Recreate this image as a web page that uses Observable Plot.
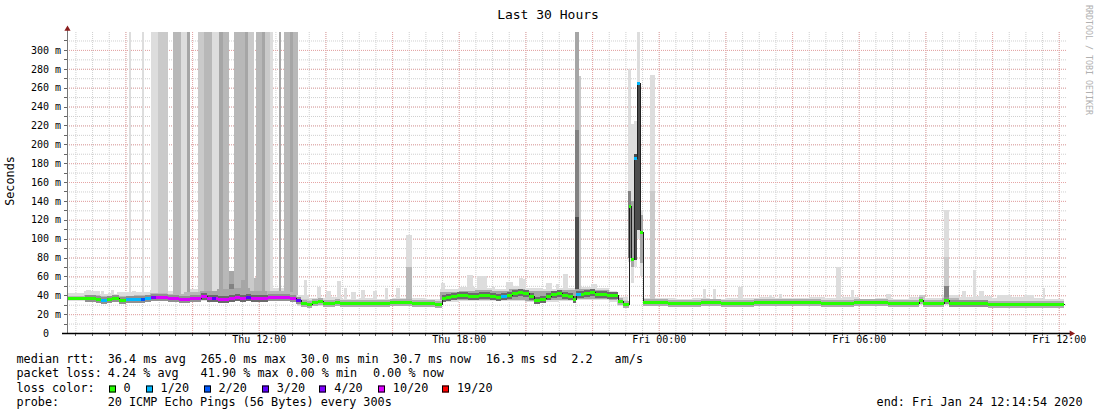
<!DOCTYPE html>
<html><head><meta charset="utf-8">
<script src="https://cdn.jsdelivr.net/npm/d3@7"></script>
<script src="https://cdn.jsdelivr.net/npm/@observablehq/plot@0.6"></script>
<style>
body{margin:0;background:#fff;}
#wrap{position:relative;width:1097px;height:415px;overflow:hidden;font-family:"DejaVu Sans Mono",monospace;color:#000;background:#fff;}
#wrap svg{position:absolute;left:0;top:0;}
.t{position:absolute;white-space:pre;line-height:1;transform:translateY(-50%);font-size:11.8px;}
.box{position:absolute;width:5px;height:5px;border:1px solid #000;transform:translateY(-50%);}
</style></head>
<body><div id="wrap"></div>
<script>
// ---------- DATA (hours since Thu 00:00, values in ms) ----------
const xDomain = [6.248, 36.248];     // Thu 06:14:54 .. Fri 12:14:54
const dataEnd = 36.15;
const xLabelVals = [12, 18, 24, 30, 36];
const xLabelText = ["Thu 12:00", "Thu 18:00", "Fri 00:00", "Fri 06:00", "Fri 12:00"];
const yLabelVals = [0, 20, 40, 60, 80, 100, 120, 140, 160, 180, 200, 220, 240, 260, 280, 300];

// median rtt (step changes) and lost-ping class
const medT = [6.248, 6.78, 7.11, 7.26, 7.44, 7.59, 7.80, 8.01, 8.46, 8.58,
  8.76, 8.91, 9.09, 9.27, 9.42, 9.60, 9.78, 9.93, 10.11, 10.26,
  10.44, 10.59, 10.71, 10.77, 10.92, 11.10, 11.28, 11.43, 11.61, 11.76,
  11.94, 12.09, 12.27, 12.78, 12.93, 13.11, 13.26, 13.44, 13.59, 13.77,
  13.92, 14.28, 14.43, 15.42, 15.60, 15.78, 15.93, 16.26, 16.44, 16.59,
  17.28, 17.49, 17.61, 17.76, 17.94, 18.27, 18.60, 18.75, 18.93, 19.11,
  19.26, 19.44, 19.59, 19.77, 19.92, 20.10, 20.25, 20.43, 20.61, 20.76,
  20.94, 21.09, 21.27, 21.42, 21.51, 21.66, 21.75, 21.93, 22.08, 22.44,
  22.59, 22.77, 22.92, 23.10, 23.18, 23.26, 23.34, 23.43, 23.52, 24.27,
  25.26, 25.86, 26.85, 27.87, 28.86, 29.85, 30.87, 31.80, 31.92, 32.55,
  32.70, 33.87, 34.86];
const medV = [37, 37.5, 36.5, 35.5, 36, 37, 34.6, 36, 36.5, 37.5,
  38.5, 38.5, 38, 37, 37.5, 36, 36.5, 37, 37.5, 39,
  37.5, 37, 37, 36.5, 36, 37, 38, 37, 38.5, 37.5,
  37, 37.5, 38.5, 38, 37.5, 35, 31.5, 31, 33, 33.5,
  32, 32.5, 31.5, 32, 31.5, 32, 32.5, 33, 32.5, 31.5,
  30.5, 37, 38.5, 39, 40, 39.5, 40.8, 40.5, 39, 38,
  39.5, 40.5, 42, 43.3, 42.5, 39, 35.5, 36.5, 39, 41,
  42, 40, 39.5, 36, 41, 41, 42.5, 43.5, 41.5, 40.5,
  40, 34, 30.5, 134.6, 78, 185, 265, 107.4, 33, 32,
  33, 32, 33.2, 32.5, 31.5, 32.5, 32, 35, 32, 35,
  31.5, 31, 30.7];
const medLoss = [0, 0, 0, 1, 0, 0, 0, 1, 2, 1,
  4, 5, 5, 5, 5, 5, 5, 5, 5, 5,
  5, 3, 5, 5, 5, 5, 5, 5, 3, 5,
  5, 5, 5, 5, 5, 3, 0, 0, 0, 0,
  0, 0, 0, 0, 0, 0, 0, 0, 0, 0,
  0, 0, 0, 0, 0, 0, 0, 0, 0, 0,
  1, 0, 0, 0, 0, 0, 0, 0, 0, 0,
  0, 0, 0, 0, 1, 0, 0, 0, 0, 0,
  0, 0, 0, 0, 0, 1, 1, 0, 0, 0,
  0, 0, 0, 0, 0, 0, 0, 0, 0, 0,
  0, 0, 0];

// base smoke: full ping range and denser inner range, with density level
const smokeT = [6.25, 6.75, 7.25, 7.75, 8.25, 8.75, 9.25, 9.75, 10.25, 10.75, 11.25, 11.75, 12.25, 12.75, 13.15,
  13.5, 14.0, 14.5, 15.0, 15.5, 16.0, 16.5, 17.0,
  17.45, 18.0, 18.5, 19.0, 19.5, 20.0, 20.5, 21.0, 21.5, 22.0, 22.5,
  22.75, 23.07, 23.52,
  24.0, 24.5, 25.0, 25.5, 26.0, 26.5, 27.0, 27.5, 28.0, 28.5, 29.0, 29.5, 30.0, 30.5, 31.0, 31.5, 32.0, 32.5, 33.0, 33.5, 34.0, 34.5, 35.0, 35.5];
const smokeLo = [34, 33.5, 33, 33, 34, 34, 33.5, 34, 34, 33.5, 34, 34, 34.5, 34, 29,
  29, 29, 29, 29, 29.5, 29.5, 29, 28.5,
  33, 34, 34, 33.5, 34, 33, 33, 34, 35, 35, 33,
  28.5, null, 30,
  30, 30.5, 30, 30, 30, 30.5, 30.5, 30.5, 30, 30, 29.5, 29.5, 30, 30, 29.5, 30, 30, 30, 29.5, 29.5, 29, 29, 29, 29];
const smokeHi = [42, 44, 41, 43, 43, 46, 45, 47, 50, 55, 60, 52, 48, 46, 40,
  37, 38, 36, 37, 36, 37, 37, 36,
  47, 49, 48, 47, 50, 48, 47, 48, 49, 48, 45,
  38, null, 37,
  37, 36, 37, 36, 37, 37, 38, 37, 37, 38, 37, 38, 36, 37, 36, 38, 37, 40, 38, 39, 37, 38, 37, 36];
const coreLo = [35.5, 35.5, 34.5, 34.5, 35, 35.5, 35, 35.5, 35.5, 35, 35.5, 35.5, 36, 35.5, 30,
  30.5, 30, 30, 30.5, 30.5, 30.5, 30, 29.5,
  35, 35.5, 35.5, 35, 35.5, 34, 34.5, 35.5, 36.5, 36.5, 34.5,
  29.5, null, 31,
  31, 31, 31, 31, 31, 31.5, 31.5, 31.5, 31, 31, 30.5, 30.5, 31, 31, 30.5, 31, 31, 31, 30.5, 30.5, 30, 30, 30, 30];
const coreHi = [39.5, 40, 39, 39.5, 40, 42, 41, 43, 45, 47, 48, 45, 44, 43, 36,
  35, 35, 34, 35, 34, 35, 34, 34,
  43, 45, 46, 44, 47, 45, 44, 46, 47, 46, 43,
  35, null, 34.5,
  34, 34, 34.5, 34, 34.5, 35, 35, 34.5, 34, 34, 33.5, 34, 34, 34, 33.5, 35, 34, 37, 34, 34, 33.5, 33.5, 33, 33];
const coreLev = [4, 4, 4, 4, 4, 4, 4, 4, 5, 5, 5, 5, 4, 4, 3,
  3, 3, 3, 3, 3, 3, 3, 3,
  5, 5, 5, 5, 5, 5, 5, 5, 5, 5, 5,
  3, null, 3,
  3, 3, 3, 3, 3, 3, 3, 3, 3, 3, 3, 3, 3, 3, 3, 3, 3, 4, 3, 3, 3, 3, 3, 3];

// smoke columns (bursts of slow / lost pings): start, end, low, high, density level
const colT0 = [8.10, 8.49, 8.76, 8.97, 9.42, 9.66, 9.84, 10.17, 10.35, 10.59, 10.80, 10.92, 11.25, 11.58, 11.67, 11.91, 12.09, 12.18, 12.33, 12.60, 12.75, 12.93, 13.02,
  6.81, 7.26, 7.47, 7.56, 8.19, 11.10, 11.10, 11.85, 11.46,
  13.35, 13.74, 14.01, 14.34, 14.55, 14.76, 15.06, 15.42, 15.78, 16.11,
  16.41, 16.41, 17.46, 18.24, 18.54, 18.99, 19.41, 19.80, 19.92, 20.61, 20.91, 21.12, 21.81, 21.96,
  21.49, 21.49, 21.49, 21.61, 23.09, 23.09, 23.18, 23.18, 23.26, 23.26, 23.34, 23.34, 23.43, 23.43, 23.75, 23.75,
  25.32, 25.62, 26.37, 27.30, 27.60, 29.31, 29.76, 30.81, 31.80, 32.55, 32.55, 32.55, 33.09, 33.42, 33.60, 34.14, 34.95, 35.52];
const colT1 = [8.16, 8.55, 8.97, 9.27, 9.66, 9.84, 9.93, 10.35, 10.59, 10.80, 10.92, 11.10, 11.58, 11.67, 11.85, 12.09, 12.18, 12.33, 12.42, 12.66, 12.93, 13.02, 13.17,
  6.96, 7.35, 7.62, 7.65, 8.31, 11.25, 11.25, 11.97, 11.58,
  13.44, 13.86, 14.16, 14.46, 14.64, 14.91, 15.18, 15.54, 15.87, 16.23,
  16.59, 16.59, 17.58, 18.42, 18.84, 19.08, 19.62, 19.92, 20.01, 20.79, 21.00, 21.27, 21.93, 22.14,
  21.61, 21.61, 21.61, 21.67, 23.18, 23.18, 23.26, 23.26, 23.34, 23.34, 23.43, 23.43, 23.52, 23.52, 23.89, 23.89,
  25.41, 25.71, 26.52, 27.39, 27.69, 29.46, 29.85, 30.96, 32.00, 32.70, 32.70, 32.70, 33.21, 33.51, 33.75, 34.56, 35.25, 35.58];
const colLo = [40, 40, 40, 40, 40, 40, 40, 40, 40, 40, 40, 40, 40, 40, 40, 40, 40, 40, 40, 40, 40, 40, 40,
  36, 36, 36, 36, 36, 38, 38, 38, 38,
  33, 33, 33, 33, 33, 33, 33, 33, 33, 33,
  33, 33, 40, 42, 42, 42, 42, 44, 44, 42, 42, 42, 42, 44,
  40, 40, 40, 40, 75, 80, 53, 70, 70, 77, 100, 109, 60, 74, 35, 35,
  33, 33, 33, 33, 33, 33, 33, 33, 33, 33, 33, 33, 33, 33, 33, 33, 33, 33];
const colHi = [319, 319, 319, 319, 319, 319, 319, 319, 319, 319, 319, 319, 319, 319, 319, 319, 319, 319, 319, 319, 319, 319, 319,
  46, 45, 42, 46, 44, 66, 52, 58, 56,
  56, 49, 44, 55, 48, 43, 46, 44, 48, 48,
  104, 70, 53, 61, 60, 49, 54, 58, 57, 53, 52, 63, 47, 52,
  319, 215, 123, 272, 280, 150, 222, 140, 225, 190, 319, 266, 130, 125, 273, 150,
  47, 47, 49, 40, 41.5, 70, 46, 41, 40, 130, 81, 50, 44, 67, 44, 40, 40, 48];
const colLev = [1, 1, 1, 2, 3, 1, 4, 2, 3, 1, 4, 3, 3, 4, 2, 3, 4, 2, 1, 4, 3, 4, 3,
  1, 1, 1, 1, 1, 4, 5, 3, 4,
  1, 1, 1, 1, 1, 1, 1, 1, 1, 1,
  1, 3, 1, 1, 1, 1, 1, 1, 1, 1, 1, 1, 1, 1,
  4, 5, 6, 2, 1, 5, 1, 4, 1, 6, 1, 6, 1, 4, 1, 2,
  1, 1, 1, 1, 1, 1, 1, 1, 2, 1, 2, 5, 1, 1, 1, 1, 1, 1];

// legend content
const statLine1 = ["median rtt:", "36.4 ms avg", "265.0 ms max", "30.0 ms min", "30.7 ms now", "16.3 ms sd", "2.2", "am/s"];
const statLine2 = ["packet loss:", "4.24 % avg", "41.90 % max", "0.00 % min", "0.00 % now"];
const lossLabels = ["0", "1/20", "2/20", "3/20", "4/20", "10/20", "19/20"];
const lossColors = ["#26ff00", "#00b8ff", "#0059ff", "#5e00ff", "#7e00ff", "#dd00ff", "#ff0000"];
const probeText = "20 ICMP Echo Pings (56 Bytes) every 300s";
const endText = "end: Fri Jan 24 12:14:54 2020";

// ---------- STYLE / LAYOUT ----------
const grays = ["#dddddd", "#cacaca", "#b8b8b8", "#a6a6a6", "#828282", "#4d4d4d"];
const haloGray = {3: "#acacac", 4: "#909090", 5: "#6a6a6a"};
const mono = "DejaVu Sans Mono";
const line1X = [16.5, 107.7, 200.6, 300.6, 392.8, 485.8, 571.3, 614.6];
const line2X = [16.5, 107.7, 200.6, 286.2, 372.9];
const lossLabelX = [123.5, 160.6, 218.5, 276.7, 334.3, 392.8, 457.0];
const rowY = [359.5, 374, 388.5, 403];

// ---------- build ----------
const med = medT.map((t, i) => ({t0: t, t1: i + 1 < medT.length ? medT[i + 1] : dataEnd, v: medV[i], loss: medLoss[i]}));
const medPts = med.map(d => ({t: d.t0, v: d.v})).concat([{t: dataEnd, v: medV[medV.length - 1]}]);
const smoke = smokeT.map((t, i) => ({t0: t, t1: i + 1 < smokeT.length ? smokeT[i + 1] : dataEnd,
  lo: smokeLo[i], hi: smokeHi[i], clo: coreLo[i], chi: coreHi[i], lev: coreLev[i]})).filter(d => d.lo != null);
const cols = d3.sort(colT0.map((t, i) => ({t0: t, t1: colT1[i], lo: colLo[i], hi: colHi[i], lev: colLev[i]})), d => d.lev);
const levAt = t => { let l = null; for (const s of smoke) if (s.t0 <= t + 1e-9 && t < s.t1) l = s.lev; return l; };
const halo = med.map(d => ({...d, lev: levAt(d.t0)})).filter(d => d.lev != null && d.v < 100);

const xMinor = d3.range(6.5, 36.01, 0.5);
const xMajor = d3.range(8, 36.01, 2);
const yMinor = d3.range(10, 311, 10);
const yMajor = d3.range(20, 301, 20);

const chart = Plot.plot({
  width: 1097, height: 350,
  marginTop: 32, marginBottom: 17, marginLeft: 67, marginRight: 30,
  x: {domain: xDomain, axis: null},
  y: {domain: [0, 319], axis: null},
  color: {type: "identity"},
  style: {background: "transparent", overflow: "visible"},
  marks: [
    Plot.gridY(yMinor, {stroke: "#cfcfcf", strokeOpacity: 1, strokeDasharray: "1,1"}),
    Plot.gridX(xMinor, {stroke: "#cfcfcf", strokeOpacity: 1, strokeDasharray: "1,1"}),
    Plot.gridY(yMajor, {stroke: "#e6a4a4", strokeOpacity: 1, strokeDasharray: "1,1"}),
    Plot.gridX(xMajor, {stroke: "#e6a4a4", strokeOpacity: 1, strokeDasharray: "1,1"}),
    Plot.rect(smoke, {x1: "t0", x2: "t1", y1: "lo", y2: "hi", fill: grays[0], shapeRendering: "crispEdges"}),
    Plot.rect(cols, {x1: "t0", x2: "t1", y1: "lo", y2: "hi", fill: d => grays[d.lev - 1], shapeRendering: "crispEdges"}),
    Plot.rect(smoke, {x1: "t0", x2: "t1", y1: "clo", y2: "chi", fill: d => grays[d.lev - 2], shapeRendering: "crispEdges"}),
    Plot.ruleY(halo, {y: "v", x1: "t0", x2: "t1", stroke: d => haloGray[d.lev], strokeWidth: 7, shapeRendering: "crispEdges"}),
    Plot.line(medPts, {x: "t", y: "v", curve: "step-after", stroke: "#202020", strokeWidth: 1, shapeRendering: "crispEdges"}),
    Plot.ruleY(med, {y: "v", x1: "t0", x2: "t1", stroke: d => lossColors[d.loss], strokeWidth: 3, shapeRendering: "crispEdges"}),
    Plot.ruleY(d3.range(0, 311, 10), {x1: xDomain[0], x2: xDomain[0], insetLeft: -3, stroke: "#666", shapeRendering: "crispEdges"}),
    Plot.ruleX(xMinor, {y1: 0, y2: 0, insetBottom: -3, stroke: "#666", shapeRendering: "crispEdges"}),
    Plot.ruleX([xDomain[0]], {stroke: "#777", insetTop: -4, shapeRendering: "crispEdges"}),
    Plot.ruleY([0], {stroke: "#000", strokeWidth: 1.5, insetLeft: -5, insetRight: -3}),
    Plot.dot([0], {frameAnchor: "top-left", symbol: "triangle", r: 2.3, fill: "#8b1c1c", stroke: null, dy: -3.5}),
    Plot.dot([0], {frameAnchor: "bottom-right", symbol: "triangle", r: 2.3, fill: "#8b1c1c", stroke: null, dx: 4, rotate: 90}),
    Plot.text(yLabelVals, {y: d => d, text: d => d === 0 ? "0\u00a0\u00a0" : d + " m", frameAnchor: "left", textAnchor: "end", dx: -6.5, fontSize: 10, fontFamily: mono, fill: "#000"}),
    Plot.text(xLabelVals, {x: d => d, text: (d, i) => xLabelText[i], frameAnchor: "bottom", dy: 9, fontSize: 10, fontFamily: mono, fill: "#000"})
  ]
});

const wrap = document.getElementById("wrap");
wrap.appendChild(chart);

function addText(txt, x, y, extra) {
  const s = document.createElement("div");
  s.className = "t";
  s.textContent = txt;
  s.style.left = x + "px";
  s.style.top = y + "px";
  if (extra) Object.assign(s.style, extra);
  wrap.appendChild(s);
  return s;
}
addText("Last 30 Hours", 548, 13.5, {fontSize: "13px", transform: "translate(-50%,-50%)"});
addText("Seconds", 11, 181, {fontSize: "11.8px", transform: "translate(-50%,-50%) rotate(-90deg)"});
addText("RRDTOOL / TOBI OETIKER", 1089, 60, {fontSize: "8.3px", color: "#b0b0b0", transform: "translate(-50%,-50%) rotate(90deg)"});
statLine1.forEach((s, i) => addText(s, line1X[i], rowY[0]));
statLine2.forEach((s, i) => addText(s, line2X[i], rowY[1]));
addText("loss color:", 16.5, rowY[2]);
lossLabels.forEach((s, i) => {
  addText(s, lossLabelX[i], rowY[2]);
  const b = document.createElement("div");
  b.className = "box";
  b.style.left = (lossLabelX[i] - 15) + "px";
  b.style.top = (rowY[2] + 0.5) + "px";
  b.style.background = lossColors[i];
  wrap.appendChild(b);
});
addText("probe:", 16.5, rowY[3]);
addText(probeText, 107.7, rowY[3]);
addText(endText, 1082.5, rowY[3], {transform: "translate(-100%,-50%)"});
</script>
</body></html>
